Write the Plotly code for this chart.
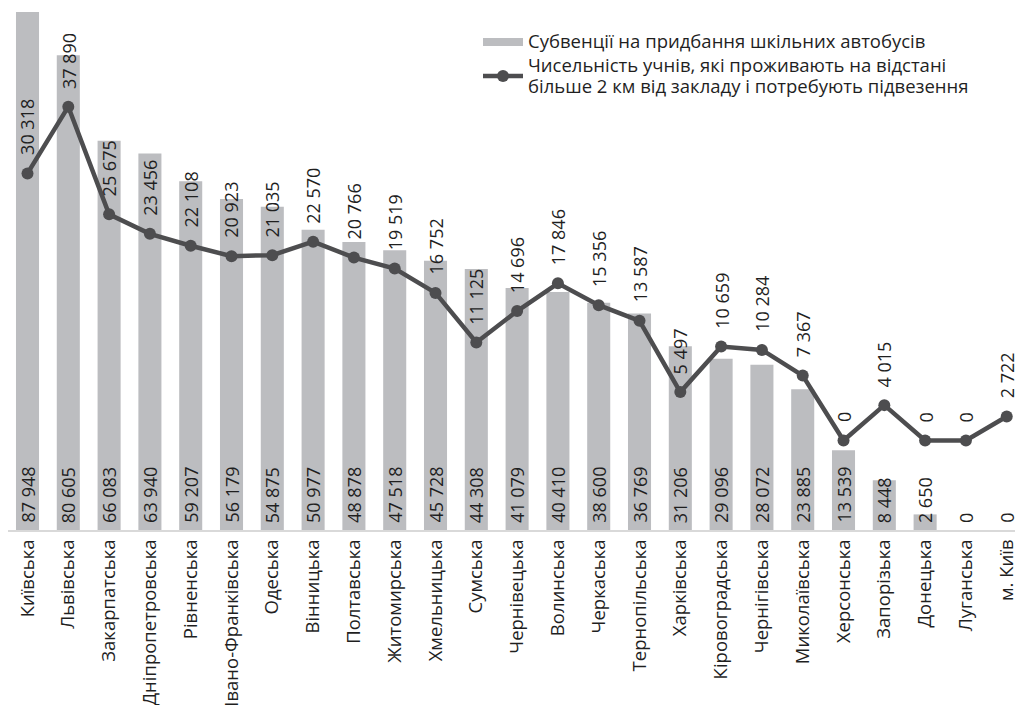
import plotly.graph_objects as go

regions = ["Київська", "Львівська", "Закарпатська", "Дніпропетровська", "Рівненська",
           "Івано-Франківська", "Одеська", "Вінницька", "Полтавська", "Житомирська",
           "Хмельницька", "Сумська", "Чернівецька", "Волинська", "Черкаська",
           "Тернопільська", "Харківська", "Кіровоградська", "Чернігівська", "Миколаївська",
           "Херсонська", "Запорізька", "Донецька", "Луганська", "м. Київ"]

subventions = [87948, 80605, 66083, 63940, 59207, 56179, 54875, 50977, 48878, 47518,
               45728, 44308, 41079, 40410, 38600, 36769, 31206, 29096, 28072, 23885,
               13539, 8448, 2650, 0, 0]

pupils = [30318, 37890, 25675, 23456, 22108, 20923, 21035, 22570, 20766, 19519,
          16752, 11125, 14696, 17846, 15356, 13587, 5497, 10659, 10284, 7367,
          0, 4015, 0, 0, 2722]

bar_name_lines = ["Субвенції на придбання шкільних автобусів"]
line_name_lines = ["Чисельність учнів, які проживають на відстані",
                   "більше 2 км від закладу і потребують підвезення"]

FONT = "Open Sans"
TXT = "#1f1f1f"
BAR_C = "#BCBDC0"
LINE_C = "#4D4D4F"
LEG_PX = 18.5


def fmt(v):
    return f"{v:,}".replace(",", " ")


def legend_label(lines):
    return "<br>".join(f'<span style="font-size:{LEG_PX}px">{t}</span>' for t in lines)


idx = list(range(len(regions)))

fig = go.Figure()
fig.add_trace(go.Bar(
    x=idx, y=subventions, name=bar_name_lines[0], showlegend=False,
    marker=dict(color=BAR_C, line=dict(width=0)),
    width=0.565, yaxis="y",
))
# legend entry for the bars (wide flat swatch, as in the reference)
fig.add_trace(go.Scatter(
    x=[None], y=[None], name=legend_label(bar_name_lines), mode="lines",
    line=dict(color=BAR_C, width=8), yaxis="y",
))
fig.add_trace(go.Scatter(
    x=idx, y=pupils, name=legend_label(line_name_lines), mode="lines+markers",
    line=dict(color=LINE_C, width=4.5),
    marker=dict(color=LINE_C, size=12),
    yaxis="y2",
))

annotations = []
for i, v in zip(idx, subventions):
    annotations.append(dict(
        x=i, y=0, xref="x", yref="y", text=fmt(v), textangle=-90,
        showarrow=False, yanchor="bottom", xanchor="center", yshift=5,
        font=dict(family=FONT, size=18, color=TXT),
    ))
for i, v in zip(idx, pupils):
    annotations.append(dict(
        x=i, y=v, xref="x", yref="y2", text=fmt(v), textangle=-90,
        showarrow=False, yanchor="bottom", xanchor="center", yshift=16,
        font=dict(family=FONT, size=18, color=TXT),
    ))

fig.update_layout(
    width=1015, height=697,
    margin=dict(l=0, r=0, t=2, b=175, pad=0, autoexpand=False),
    paper_bgcolor="white", plot_bgcolor="white",
    font=dict(family=FONT, size=18, color=TXT),
    showlegend=True,
    legend=dict(
        xref="container", yref="container", x=470 / 1015, y=1 - 17 / 697,
        xanchor="left", yanchor="top", bgcolor="rgba(0,0,0,0)",
        font=dict(family=FONT, size=16, color=TXT),
        tracegroupgap=0, itemwidth=40,
    ),
    xaxis=dict(
        range=[-0.478, 24.399], autorange=False, tickangle=-90,
        tickmode="array", tickvals=idx, ticktext=regions,
        showline=True, linecolor="#D9D9D9", linewidth=2, ticks="",
        showgrid=False, zeroline=False, automargin=False,
        tickfont=dict(family=FONT, size=18.5, color=TXT),
    ),
    yaxis=dict(range=[0, 88288], autorange=False, visible=False,
               showgrid=False, zeroline=False),
    yaxis2=dict(range=[-10159, 48865], autorange=False, visible=False,
                showgrid=False, zeroline=False, overlaying="y", side="right"),
    annotations=annotations,
)

fig.write_html("out.html")
